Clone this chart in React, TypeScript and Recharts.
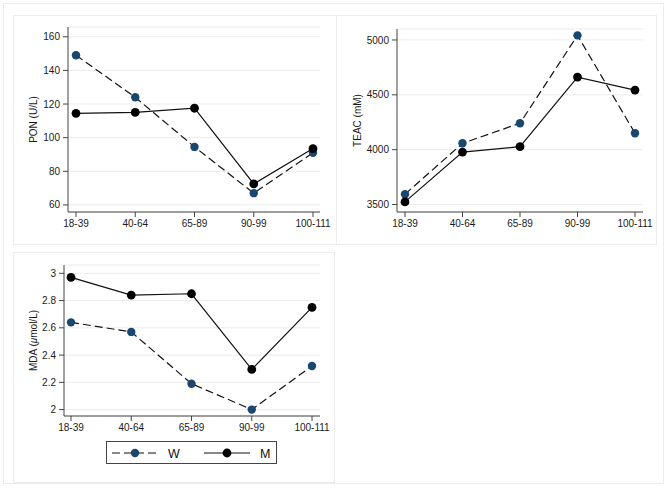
import { LineChart, Line, XAxis, YAxis, CartesianGrid } from "recharts";

const categories = ["18-39", "40-64", "65-89", "90-99", "100-111"];

const ponW = [149, 124, 94.5, 67, 91];
const ponM = [114.5, 115, 117.5, 72.5, 93.5];
const ponTicks = [60, 80, 100, 120, 140, 160];

const teacW = [3594, 4058, 4241, 5042, 4150];
const teacM = [3524, 3978, 4027, 4662, 4543];
const teacTicks = [3500, 4000, 4500, 5000];

const mdaW = [2.64, 2.57, 2.19, 2.0, 2.32];
const mdaM = [2.97, 2.84, 2.85, 2.295, 2.75];
const mdaTicks = [2, 2.2, 2.4, 2.6, 2.8, 3];

const NAVY = "#1a476f";
const AXIS = "#444";
const FONT = "Arial, 'Liberation Sans', Helvetica, sans-serif";

const rows = (w: number[], m: number[]) =>
  categories.map((c, i) => ({ cat: c, W: w[i], M: m[i] }));

function Panel({
  left,
  top,
  width,
  height,
  margin,
  yWidth,
  domain,
  ticks,
  label,
  labelX,
  pad,
  w,
  m,
}: any) {
  return (
    <div style={{ position: "absolute", left, top }}>
      <LineChart width={width} height={height} data={rows(w, m)} margin={margin}>
        <CartesianGrid vertical={false} stroke="#ebebeb" />
        <XAxis
          dataKey="cat"
          interval={0}
          height={25}
          padding={pad}
          tickSize={5}
          tickMargin={3}
          stroke={AXIS}
          tick={{ fontSize: 10, fill: "#1a1a1a", fontFamily: FONT }}
        />
        <YAxis
          type="number"
          width={yWidth}
          domain={domain}
          ticks={ticks}
          allowDataOverflow
          tickSize={5}
          tickMargin={3}
          stroke={AXIS}
          tick={{ fontSize: 10, fill: "#1a1a1a", fontFamily: FONT }}
          label={{
            content: (p: any) => {
              const vb = p.viewBox || {};
              const x = (vb.x || 0) + labelX;
              const y = (vb.y || 0) + (vb.height || 0) / 2;
              return (
                <text
                  x={x}
                  y={y}
                  transform={`rotate(-90 ${x} ${y})`}
                  textAnchor="middle"
                  dominantBaseline="central"
                  fontSize={10}
                  fill="#1a1a1a"
                  fontFamily={FONT}
                >
                  {label}
                </text>
              );
            },
          }}
        />
        <Line
          dataKey="W"
          stroke="#111"
          strokeWidth={1.2}
          strokeDasharray="8 4"
          dot={{ r: 4.2, fill: NAVY, stroke: NAVY, strokeWidth: 0 }}
          activeDot={false}
          isAnimationActive={false}
        />
        <Line
          dataKey="M"
          stroke="#111"
          strokeWidth={1.2}
          dot={{ r: 4.4, fill: "#000", stroke: "#000", strokeWidth: 0 }}
          activeDot={false}
          isAnimationActive={false}
        />
      </LineChart>
    </div>
  );
}

function LegendBox() {
  return (
    <svg
      width={172}
      height={24}
      style={{ position: "absolute", left: 106, top: 441 }}
    >
      <rect x={0.5} y={0.5} width={170} height={22} fill="#fff" stroke="#444" />
      <line x1={6} y1={12} x2={52} y2={12} stroke="#111" strokeWidth={1.2} strokeDasharray="8 4" />
      <circle cx={29} cy={12} r={4.2} fill={NAVY} />
      <text x={62} y={16.5} fontSize={12.5} fill="#111" fontFamily={FONT}>
        W
      </text>
      <line x1={98} y1={12} x2={144} y2={12} stroke="#111" strokeWidth={1.2} />
      <circle cx={121} cy={12} r={4.4} fill="#000" />
      <text x={154} y={16.5} fontSize={12.5} fill="#111" fontFamily={FONT}>
        M
      </text>
    </svg>
  );
}

export default function App() {
  return (
    <div
      style={{
        position: "absolute",
        left: 0,
        top: 0,
        width: 666,
        height: 489,
        background: "#fff",
        fontFamily: FONT,
      }}
    >
      <div style={{ position: "absolute", left: 3, top: 3, width: 659, height: 479, border: "1px solid #ececec" }} />
      <div style={{ position: "absolute", left: 13, top: 15, width: 322, height: 228, border: "1px solid #ececec" }} />
      <div style={{ position: "absolute", left: 336, top: 15, width: 319, height: 228, border: "1px solid #ececec" }} />
      <div style={{ position: "absolute", left: 13, top: 252, width: 320, height: 229, border: "1px solid #ececec" }} />

      <Panel
        left={0}
        top={0}
        width={336}
        height={244}
        margin={{ top: 27, right: 16, bottom: 7, left: 0 }}
        yWidth={68}
        domain={[55.8, 165.8]}
        ticks={ponTicks}
        label="PON (U/L)"
        labelX={33}
        pad={{ left: 8, right: 7 }}
        w={ponW}
        m={ponM}
      />
      <Panel
        left={336}
        top={0}
        width={320}
        height={244}
        margin={{ top: 29, right: 13, bottom: 7, left: 0 }}
        yWidth={61}
        domain={[3432, 5100]}
        ticks={teacTicks}
        label="TEAC (mM)"
        labelX={21}
        pad={{ left: 8, right: 8 }}
        w={teacW}
        m={teacM}
      />
      <Panel
        left={0}
        top={252}
        width={333}
        height={190}
        margin={{ top: 13, right: 13, bottom: 1, left: 0 }}
        yWidth={64}
        domain={[1.953, 3.061]}
        ticks={mdaTicks}
        label={
          <>
            MDA (<tspan fontStyle="italic">μ</tspan>mol/L)
          </>
        }
        labelX={33}
        pad={{ left: 7, right: 8 }}
        w={mdaW}
        m={mdaM}
      />
      <LegendBox />
    </div>
  );
}
